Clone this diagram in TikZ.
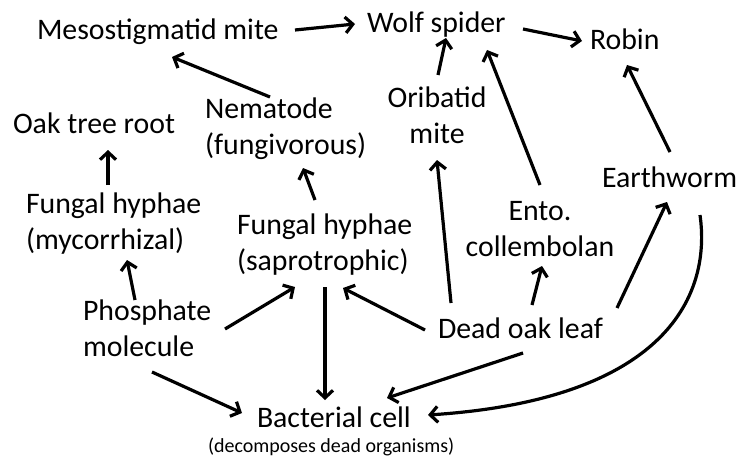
\documentclass[tikz,border=0pt]{standalone}
\usepackage{fontspec}
\setmainfont{Carlito}
\usetikzlibrary{arrows.meta}
\begin{document}
\begin{tikzpicture}[x=1pt,y=-1pt,
  lbl/.style={inner sep=0pt,outer sep=0pt,font=\fontsize{29.8pt}{36pt}\selectfont},
  small/.style={inner sep=0pt,outer sep=0pt,font=\fontsize{20pt}{24pt}\selectfont},
  arr/.style={line width=3.2pt,-{Straight Barb[length=7.5pt,width=16pt]}}]
\path[fill=white,use as bounding box] (0,0) rectangle (738,460);
% nodes (base = baseline of the last line)
\node[lbl,anchor=base west] (meso) at (37,40) {Mesostigmatid mite};
\node[lbl,anchor=base west] (wolf) at (367,33) {Wolf spider};
\node[lbl,anchor=base west] (robin) at (590,49) {Robin};
\node[lbl,anchor=base west] (oak) at (13,133) {Oak tree root};
\node[lbl,anchor=base west,align=left] (nem) at (205,154) {Nematode\\(fungivorous)};
\node[lbl,anchor=base,align=center] (orib) at (437,143) {Oribatid\\mite};
\node[lbl,anchor=base west] (earth) at (602,187) {Earthworm};
\node[lbl,anchor=base west,align=left] (fhm) at (26,249) {Fungal hyphae\\(mycorrhizal)};
\node[lbl,anchor=base west,align=left] (fhs) at (237,270) {Fungal hyphae\\(saprotrophic)};
\node[lbl,anchor=base,align=center] (ento) at (540,256) {Ento.\\collembolan};
\node[lbl,anchor=base west,align=left] (phos) at (83,356) {Phosphate\\molecule};
\node[lbl,anchor=base west] (dead) at (438,338) {Dead oak leaf};
\node[lbl,anchor=base west] (bact) at (257,427) {Bacterial cell};
\node[small,anchor=base west] (note) at (208,452) {(decomposes dead organisms)};
% connectors
\draw[arr] ([shift={(258,-10)}]meso.base west) -- ([shift={(-12,-9)}]wolf.base west);
\draw[arr] ([shift={(156,-4)}]wolf.base west) -- ([shift={(-8,-8)}]robin.base west);
\draw[arr] ([shift={(65,-57)}]nem.base west) -- ([shift={(135,17)}]meso.base west);
\draw[arr] ([shift={(1,-68)}]orib.base) -- ([shift={(79,5)}]wolf.base west);
\draw[arr] ([shift={(0,-71)}]ento.base) -- ([shift={(120,17)}]wolf.base west);
\draw[arr] ([shift={(68,-35)}]earth.base west) -- ([shift={(37,16)}]robin.base west);
\draw[arr] ([shift={(82,-64)}]fhm.base west) -- ([shift={(95,17)}]oak.base west);
\draw[arr] ([shift={(78,-70)}]fhs.base west) -- ([shift={(98,14)}]nem.base west);
\draw[arr] ([shift={(52,-56)}]phos.base west) -- ([shift={(101,11)}]fhm.base west);
\draw[arr] ([shift={(142,-27)}]phos.base west) -- ([shift={(58,17)}]fhs.base west);
\draw[arr] ([shift={(69,16)}]phos.base west) -- ([shift={(-15,-14)}]bact.base west);
\draw[arr] ([shift={(88,17)}]fhs.base west) -- ([shift={(68,-27)}]bact.base west);
\draw[arr] ([shift={(-13,-8)}]dead.base west) -- ([shift={(106,18)}]fhs.base west);
\draw[arr] ([shift={(13,-35)}]dead.base west) -- ([shift={(0,17)}]orib.base);
\draw[arr] ([shift={(94,-33)}]dead.base west) -- ([shift={(2,10)}]ento.base);
\draw[arr] ([shift={(179,-30)}]dead.base west) -- ([shift={(65,15)}]earth.base west);
\draw[arr] ([shift={(85,15)}]dead.base west) -- ([shift={(130,-29)}]bact.base west);
\draw[arr] ([shift={(98,28)}]earth.base west) .. controls +(12,85) and +(232,-15) .. ([shift={(171,-12)}]bact.base west);
\end{tikzpicture}
\end{document}
